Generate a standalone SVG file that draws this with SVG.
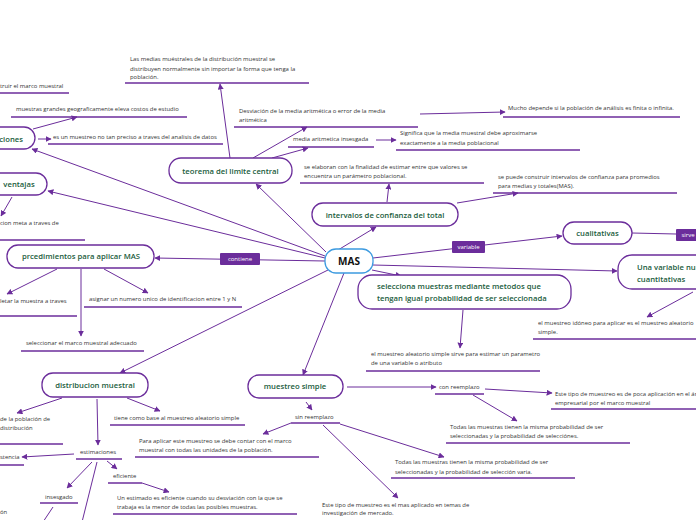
<svg xmlns="http://www.w3.org/2000/svg" width="696" height="520" viewBox="0 0 696 520">
<defs>
<marker id="ar" viewBox="0 0 10 10" refX="9" refY="5" markerWidth="6" markerHeight="6" markerUnits="userSpaceOnUse" orient="auto">
<path d="M0,0 L10,5 L0,10 z" fill="#6b2d9b"/>
</marker>
<style>
.bg{fill:#fff}
.n rect{fill:#fff;stroke:#6b2d9b;stroke-width:1.3}
.n text{font-family:"Open Sans",sans-serif;font-weight:600;font-size:7.7px;fill:#1a5c3c}
.t{font-family:"Open Sans",sans-serif;font-size:5.9px;fill:#333}
.u{stroke:#6b2d9b;stroke-width:1.5;fill:none}
#connectors line{stroke:#6b2d9b;stroke-width:1;fill:none}
.a{marker-end:url(#ar)}
.lb rect{fill:#6b2d9b}
.lb text{font-family:"Open Sans",sans-serif;font-size:6px;fill:#fff;text-anchor:middle}
</style>
</defs>
<rect class="bg" width="696" height="520"/>
<g id="connectors">
<line class="a" x1="326" y1="252" x2="256" y2="184"/>
<line class="a" x1="325" y1="256" x2="32" y2="149"/>
<line class="a" x1="325" y1="258" x2="48" y2="191"/>
<line class="a" x1="325" y1="261" x2="155" y2="258"/>
<line class="a" x1="338" y1="250" x2="376" y2="227"/>
<line class="a" x1="373" y1="258" x2="562" y2="236"/>
<line class="a" x1="373" y1="265" x2="617" y2="271"/>
<line class="a" x1="372" y1="270" x2="401" y2="276"/>
<line class="a" x1="344" y1="273" x2="303" y2="375"/>
<line class="a" x1="328" y1="270" x2="120" y2="373"/>
<line class="a" x1="33" y1="129" x2="77" y2="117"/>
<line class="a" x1="38" y1="139" x2="51" y2="139"/>
<line class="a" x1="230" y1="158" x2="220" y2="84"/>
<line class="a" x1="253" y1="158" x2="307" y2="127"/>
<line class="a" x1="272" y1="158" x2="308" y2="148"/>
<line class="a" x1="376" y1="140" x2="396" y2="140"/>
<line class="a" x1="420" y1="114" x2="505" y2="112"/>
<line class="a" x1="387" y1="202" x2="389" y2="184"/>
<line class="a" x1="457" y1="203" x2="518" y2="193"/>
<line x1="632" y1="233" x2="676" y2="234"/>
<line class="a" x1="693" y1="292" x2="647" y2="317"/>
<line class="a" x1="463" y1="310" x2="460" y2="348"/>
<line class="a" x1="12" y1="197" x2="1" y2="216"/>
<line class="a" x1="57" y1="269" x2="7" y2="294"/>
<line class="a" x1="81" y1="269" x2="81" y2="336"/>
<line class="a" x1="104" y1="269" x2="148" y2="293"/>
<line class="a" x1="62" y1="398" x2="17" y2="413"/>
<line class="a" x1="127" y1="398" x2="160" y2="411"/>
<line class="a" x1="97" y1="399" x2="98" y2="445"/>
<line class="a" x1="74" y1="454" x2="22" y2="457"/>
<line class="a" x1="107" y1="461" x2="117" y2="469"/>
<line class="a" x1="92" y1="462" x2="67" y2="488"/>
<line x1="97" y1="462" x2="82" y2="522"/>
<line x1="53" y1="507" x2="43" y2="522"/>
<line class="a" x1="142" y1="483" x2="169" y2="492"/>
<line class="a" x1="347" y1="387" x2="436" y2="387"/>
<line class="a" x1="306" y1="402" x2="312" y2="410"/>
<line class="a" x1="291" y1="423" x2="263" y2="434"/>
<line class="a" x1="340" y1="424" x2="444" y2="457"/>
<line class="a" x1="323" y1="425" x2="398" y2="498"/>
<line class="a" x1="485" y1="389" x2="552" y2="393"/>
<line class="a" x1="473" y1="395" x2="517" y2="421"/>
</g>
<g id="n-mas"><rect x="325" y="249" width="48" height="24" rx="11" fill="#fff" stroke="#3d9be0" stroke-width="1.3"/><text x="349" y="265" text-anchor="middle" font-family="Open Sans,sans-serif" font-weight="bold" font-size="10px" fill="#111">MAS</text></g>
<g id="n-teorema" class="n"><rect x="169" y="158" width="123" height="25" rx="12"/><text x="230.5" y="173.5" text-anchor="middle">teorema del limite central</text></g>
<g id="n-intervalos" class="n"><rect x="312" y="203" width="146" height="23" rx="11"/><text x="385" y="217.5" text-anchor="middle">intervalos de confianza del total</text></g>
<g id="n-limitaciones" class="n"><rect x="-25" y="127" width="60" height="22" rx="11"/><text x="23" y="141.5" text-anchor="end">ciones</text></g>
<g id="n-ventajas" class="n"><rect x="-15" y="173" width="62" height="22" rx="11"/><text x="19" y="187" text-anchor="middle">ventajas</text></g>
<g id="n-proc" class="n"><rect x="7" y="245" width="147" height="23" rx="11"/><text x="81" y="259" text-anchor="middle">prcedimientos para aplicar MAS</text></g>
<g id="n-cual" class="n"><rect x="563" y="222" width="69" height="22" rx="11"/><text x="597.5" y="235.5" text-anchor="middle">cualitativas</text></g>
<g id="n-cuant" class="n"><rect x="618" y="255" width="100" height="34" rx="14"/><text x="637" y="270">Una variable numerica</text><text x="637" y="282">cuantitativas</text></g>
<g id="n-sel" class="n"><rect x="358" y="275" width="213" height="34" rx="14"/><text x="377" y="289">selecciona muestras mediante metodos que</text><text x="377" y="301">tengan igual probabilidad de ser seleccionada</text></g>
<g id="n-dist" class="n"><rect x="42" y="373" width="106" height="24" rx="11"/><text x="95" y="388" text-anchor="middle">distribucion muestral</text></g>
<g id="n-ms" class="n"><rect x="248" y="375" width="95" height="23" rx="11"/><text x="295" y="389" text-anchor="middle">muestreo simple</text></g>
<g id="l-contiene" class="lb"><rect x="220" y="253" width="40" height="12" rx="1"/><text x="240" y="261.2">contiene</text></g>
<g id="l-variable" class="lb"><rect x="452" y="241" width="33" height="12" rx="1"/><text x="468.5" y="249.2">variable</text></g>
<g id="l-sirve" class="lb"><rect x="676" y="229" width="24" height="12" rx="1"/><text x="688" y="237.2">sirve</text></g>
<g id="texts">
<text class="t" x="130" y="61">Las medias muéstrales de la distribución muestral se</text>
<text class="t" x="130" y="70.5">distribuyen normalmente sin importar la forma que tenga la</text>
<text class="t" x="130" y="79">población.</text>
<line class="u" x1="125" y1="83" x2="309" y2="83"/>
<text class="t" x="0" y="88">truir el marco muestral</text>
<line class="u" x1="0" y1="93" x2="69" y2="93"/>
<text class="t" x="16" y="111">muestras grandes geograficamente eleva costos de estudio</text>
<line class="u" x1="11" y1="117" x2="187" y2="117"/>
<text class="t" x="53" y="139">es un muestreo no tan preciso a traves del analisis de datos</text>
<line class="u" x1="48" y1="144" x2="223" y2="144"/>
<text class="t" x="239" y="113">Desviación de la media aritmética o error de la media</text>
<text class="t" x="239" y="121.5">aritmética</text>
<line class="u" x1="234" y1="127" x2="418" y2="127"/>
<text class="t" x="508" y="110">Mucho depende si la población de análisis es finita o infinita.</text>
<line class="u" x1="503" y1="117" x2="680" y2="117"/>
<text class="t" x="293" y="141">media aritmetica insesgada</text>
<line class="u" x1="288" y1="147" x2="374" y2="147"/>
<text class="t" x="400" y="135">Significa que la media muestral debe aproximarse</text>
<text class="t" x="400" y="144.5">exactamente a la media poblacional</text>
<line class="u" x1="396" y1="150" x2="580" y2="150"/>
<text class="t" x="304" y="169">se elaboran con la finalidad de estimar entre que valores se</text>
<text class="t" x="304" y="178">encuentra un parámetro poblacional.</text>
<line class="u" x1="300" y1="183" x2="484" y2="183"/>
<text class="t" x="498" y="179">se puede construir intervalos de confianza para promedios</text>
<text class="t" x="498" y="188">para medias y totales(MAS).</text>
<line class="u" x1="493" y1="193" x2="677" y2="193"/>
<text class="t" x="538" y="325">el muestreo idóneo para aplicar es el muestreo aleatorio</text>
<text class="t" x="538" y="334">simple.</text>
<line class="u" x1="533" y1="339" x2="696" y2="339"/>
<text class="t" x="371" y="356">el muestreo aleatorio simple sirve para estimar un parametro</text>
<text class="t" x="371" y="365">de una variable o atributo</text>
<line class="u" x1="366" y1="371" x2="540" y2="371"/>
<text class="t" x="0" y="225">cion meta a traves de</text>
<line class="u" x1="0" y1="240" x2="85" y2="240"/>
<text class="t" x="0" y="303">letar la muestra a traves</text>
<line class="u" x1="0" y1="316" x2="77" y2="316"/>
<text class="t" x="89" y="301">asignar un numero unico de identificacion entre 1 y N</text>
<line class="u" x1="84" y1="307" x2="242" y2="307"/>
<text class="t" x="26" y="345">seleccionar el marco muestral adecuado</text>
<line class="u" x1="21" y1="351" x2="144" y2="351"/>
<text class="t" x="0" y="421">de la población de</text>
<text class="t" x="0" y="430">distribución</text>
<line class="u" x1="0" y1="444" x2="63" y2="444"/>
<text class="t" x="114" y="420">tiene como base al muestreo aleatorio simple</text>
<line class="u" x1="110" y1="425" x2="245" y2="425"/>
<text class="t" x="80" y="454">estimaciones</text>
<line class="u" x1="76" y1="459" x2="122" y2="459"/>
<text class="t" x="0" y="459">stencia</text>
<line class="u" x1="0" y1="465" x2="24" y2="465"/>
<text class="t" x="113" y="478">eficiente</text>
<line class="u" x1="108" y1="483" x2="142" y2="483"/>
<text class="t" x="45" y="499">insesgado</text>
<line class="u" x1="40" y1="503" x2="78" y2="503"/>
<text class="t" x="0" y="514">ón</text>
<text class="t" x="139" y="443">Para aplicar este muestreo se debe contar con el marco</text>
<text class="t" x="139" y="452">muestral con todas las unidades de la población.</text>
<line class="u" x1="135" y1="457" x2="319" y2="457"/>
<text class="t" x="117" y="500">Un estimado es eficiente cuando su desviación con la que se</text>
<text class="t" x="117" y="509">trabaja es la menor de todas las posibles muestras.</text>
<line class="u" x1="113" y1="514" x2="297" y2="514"/>
<text class="t" x="439" y="389">con reemplazo</text>
<line class="u" x1="435" y1="394" x2="484" y2="394"/>
<text class="t" x="555" y="396">Este tipo de muestreo es de poca aplicación en el ámbito</text>
<text class="t" x="555" y="404.5">empresarial por el marco muestral</text>
<line class="u" x1="551" y1="409" x2="696" y2="409"/>
<text class="t" x="450" y="429">Todas las muestras tienen la misma probabilidad de ser</text>
<text class="t" x="450" y="438">seleccionadas y la probabilidad de selecciónes.</text>
<line class="u" x1="446" y1="443" x2="630" y2="443"/>
<text class="t" x="295" y="419">sin reemplazo</text>
<line class="u" x1="291" y1="423" x2="340" y2="423"/>
<text class="t" x="395" y="464">Todas las muestras tienen la misma probabilidad de ser</text>
<text class="t" x="395" y="474">seleccionadas y la probabilidad de selección varia.</text>
<line class="u" x1="391" y1="478" x2="575" y2="478"/>
<text class="t" x="322" y="507">Este tipo de muestreo es el mas aplicado en temas de</text>
<text class="t" x="322" y="515">investigación de mercado.</text>
</g>
</svg>
